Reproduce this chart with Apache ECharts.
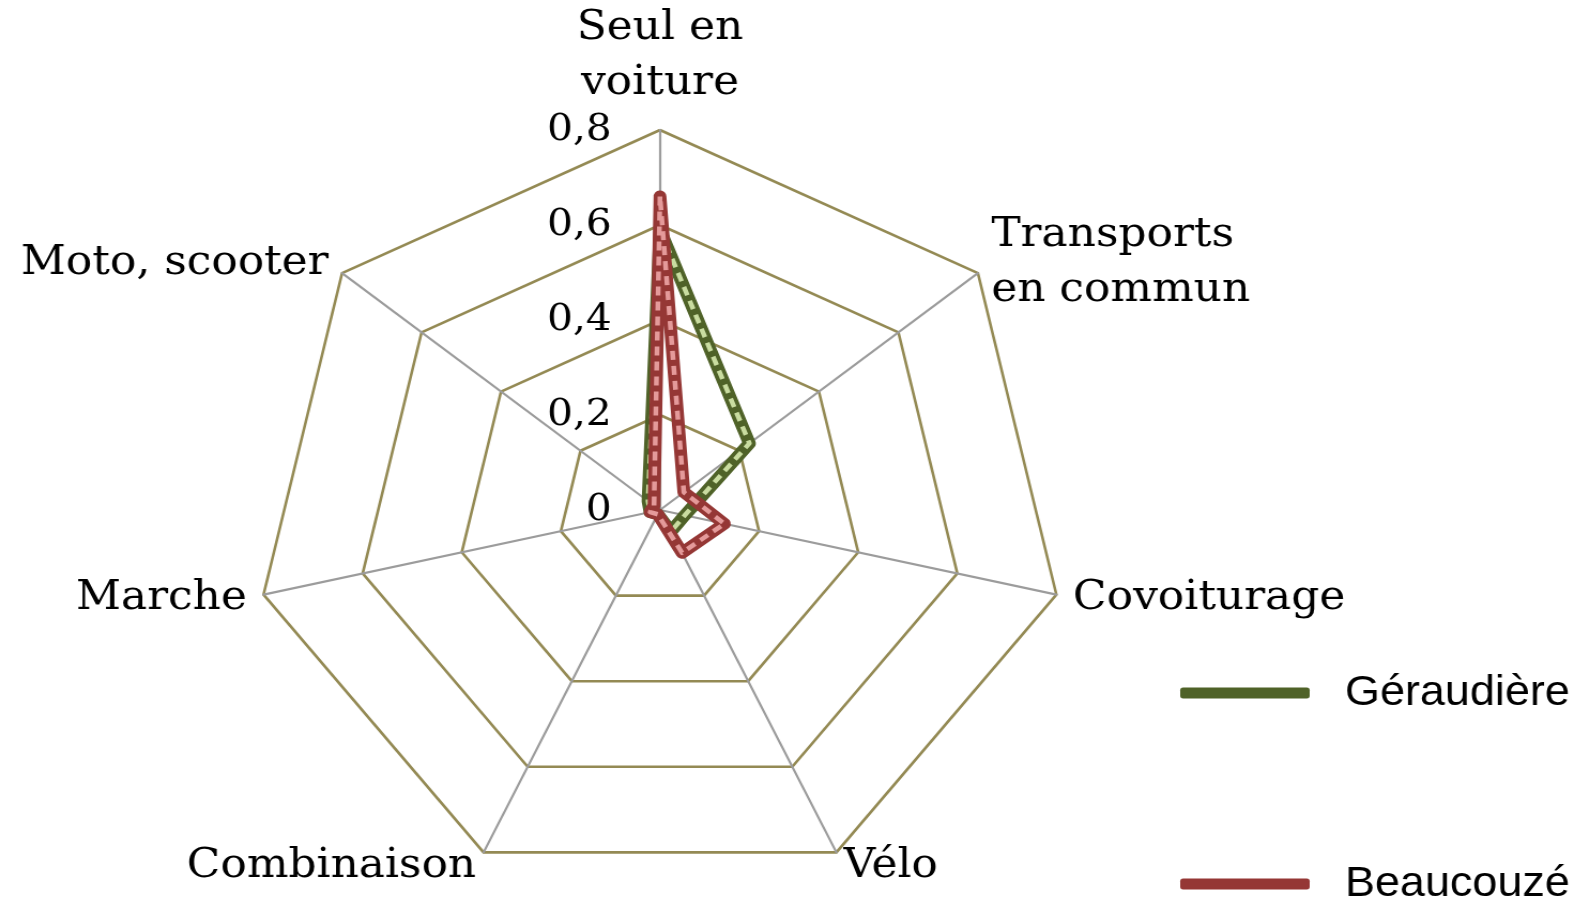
<!DOCTYPE html>
<html><head><meta charset="utf-8">
<script src="https://cdn.jsdelivr.net/npm/echarts@6/dist/echarts.min.js"></script>
<style>
html,body{margin:0;padding:0;background:#fff;overflow:hidden;}
#wrap{width:1574px;height:900px;overflow:hidden;position:relative;}
#chart{width:1471px;height:900px;transform:scaleX(1.07);transform-origin:0 0;}
</style></head><body><div id="wrap"><div id="chart"></div></div>
<script>
// Indicators in ECharts order (counter-clockwise from top)
const categories = ['Seul en\nvoiture', 'Moto, scooter', 'Marche', 'Combinaison', 'Vélo', 'Covoiturage', 'Transports\nen commun'];
const seriesNames = ['Géraudière', 'Beaucouzé'];
const geraudiere = [0.59, 0.03, 0.02, 0.01, 0.05, 0.05, 0.225];
const beaucouze  = [0.66, 0.015, 0.02, 0.01, 0.10, 0.13, 0.06];
const tickLabels = ['0', '0,2', '0,4', '0,6', '0,8'];
const axisMax = 0.8;
const tickStep = 0.2;

const chart = echarts.init(document.getElementById('chart'), null, {renderer: 'canvas'});
const serif = 'DejaVu Serif';
const legendText = {fontFamily: "'Liberation Sans Narrow','Liberation Sans',Arial,sans-serif", fontSize: 42, color: '#000', lineHeight: 40, padding: [0, 0, 0, 28]};
const legendBase = {orient: 'vertical', left: 1098, itemWidth: 121, itemHeight: 11, icon: 'roundRect', textStyle: legendText};
const option = {
  animation: false,
  backgroundColor: '#fff',
  legend: [
    Object.assign({top: 667, data: [{name: seriesNames[0]}]}, legendBase),
    Object.assign({top: 858, data: [{name: seriesNames[1]}]}, legendBase)
  ],
  radar: {
    center: [616.8, 510],
    radius: 380,
    startAngle: 90,
    splitNumber: 4,
    shape: 'polygon',
    nameGap: 16,
    axisName: {color: '#000', fontFamily: serif, fontSize: 41, lineHeight: 55},
    splitLine: {lineStyle: {color: '#948a54', width: 2.6}},
    splitArea: {show: false},
    axisLine: {lineStyle: {color: '#9c9c9c', width: 2.2}},
    axisTick: {show: false},
    axisLabel: {show: false},
    indicator: categories.map((n, i) => {
      const o = {name: n, min: 0, max: axisMax};
      if (i === 0) {
        o.axisLabel = {show: true, showMinLabel: true, margin: 45, color: '#000', fontFamily: serif, fontSize: 38,
          formatter: v => tickLabels[Math.round(v / tickStep)]};
      }
      return o;
    })
  },
  series: [
    {type: 'radar', name: seriesNames[0], symbol: 'none', z: 2,
     itemStyle: {color: '#4f6228'},
     lineStyle: {color: '#4f6228', width: 12, join: 'round', cap: 'round'},
     data: [{name: seriesNames[0], value: geraudiere}]},
    {type: 'radar', name: seriesNames[0], symbol: 'none', z: 3, silent: true,
     itemStyle: {color: '#4f6228'},
     lineStyle: {color: '#c9dca0', width: 4.5, type: [9, 6]},
     data: [{name: seriesNames[0], value: geraudiere}]},
    {type: 'radar', name: seriesNames[1], symbol: 'none', z: 4,
     itemStyle: {color: '#953735'},
     lineStyle: {color: '#953735', width: 12, join: 'round', cap: 'round'},
     data: [{name: seriesNames[1], value: beaucouze}]},
    {type: 'radar', name: seriesNames[1], symbol: 'none', z: 5, silent: true,
     itemStyle: {color: '#953735'},
     lineStyle: {color: '#e49a9a', width: 4.5, type: [9, 6]},
     data: [{name: seriesNames[1], value: beaucouze}]}
  ]
};
chart.setOption(option);
</script></body></html>
